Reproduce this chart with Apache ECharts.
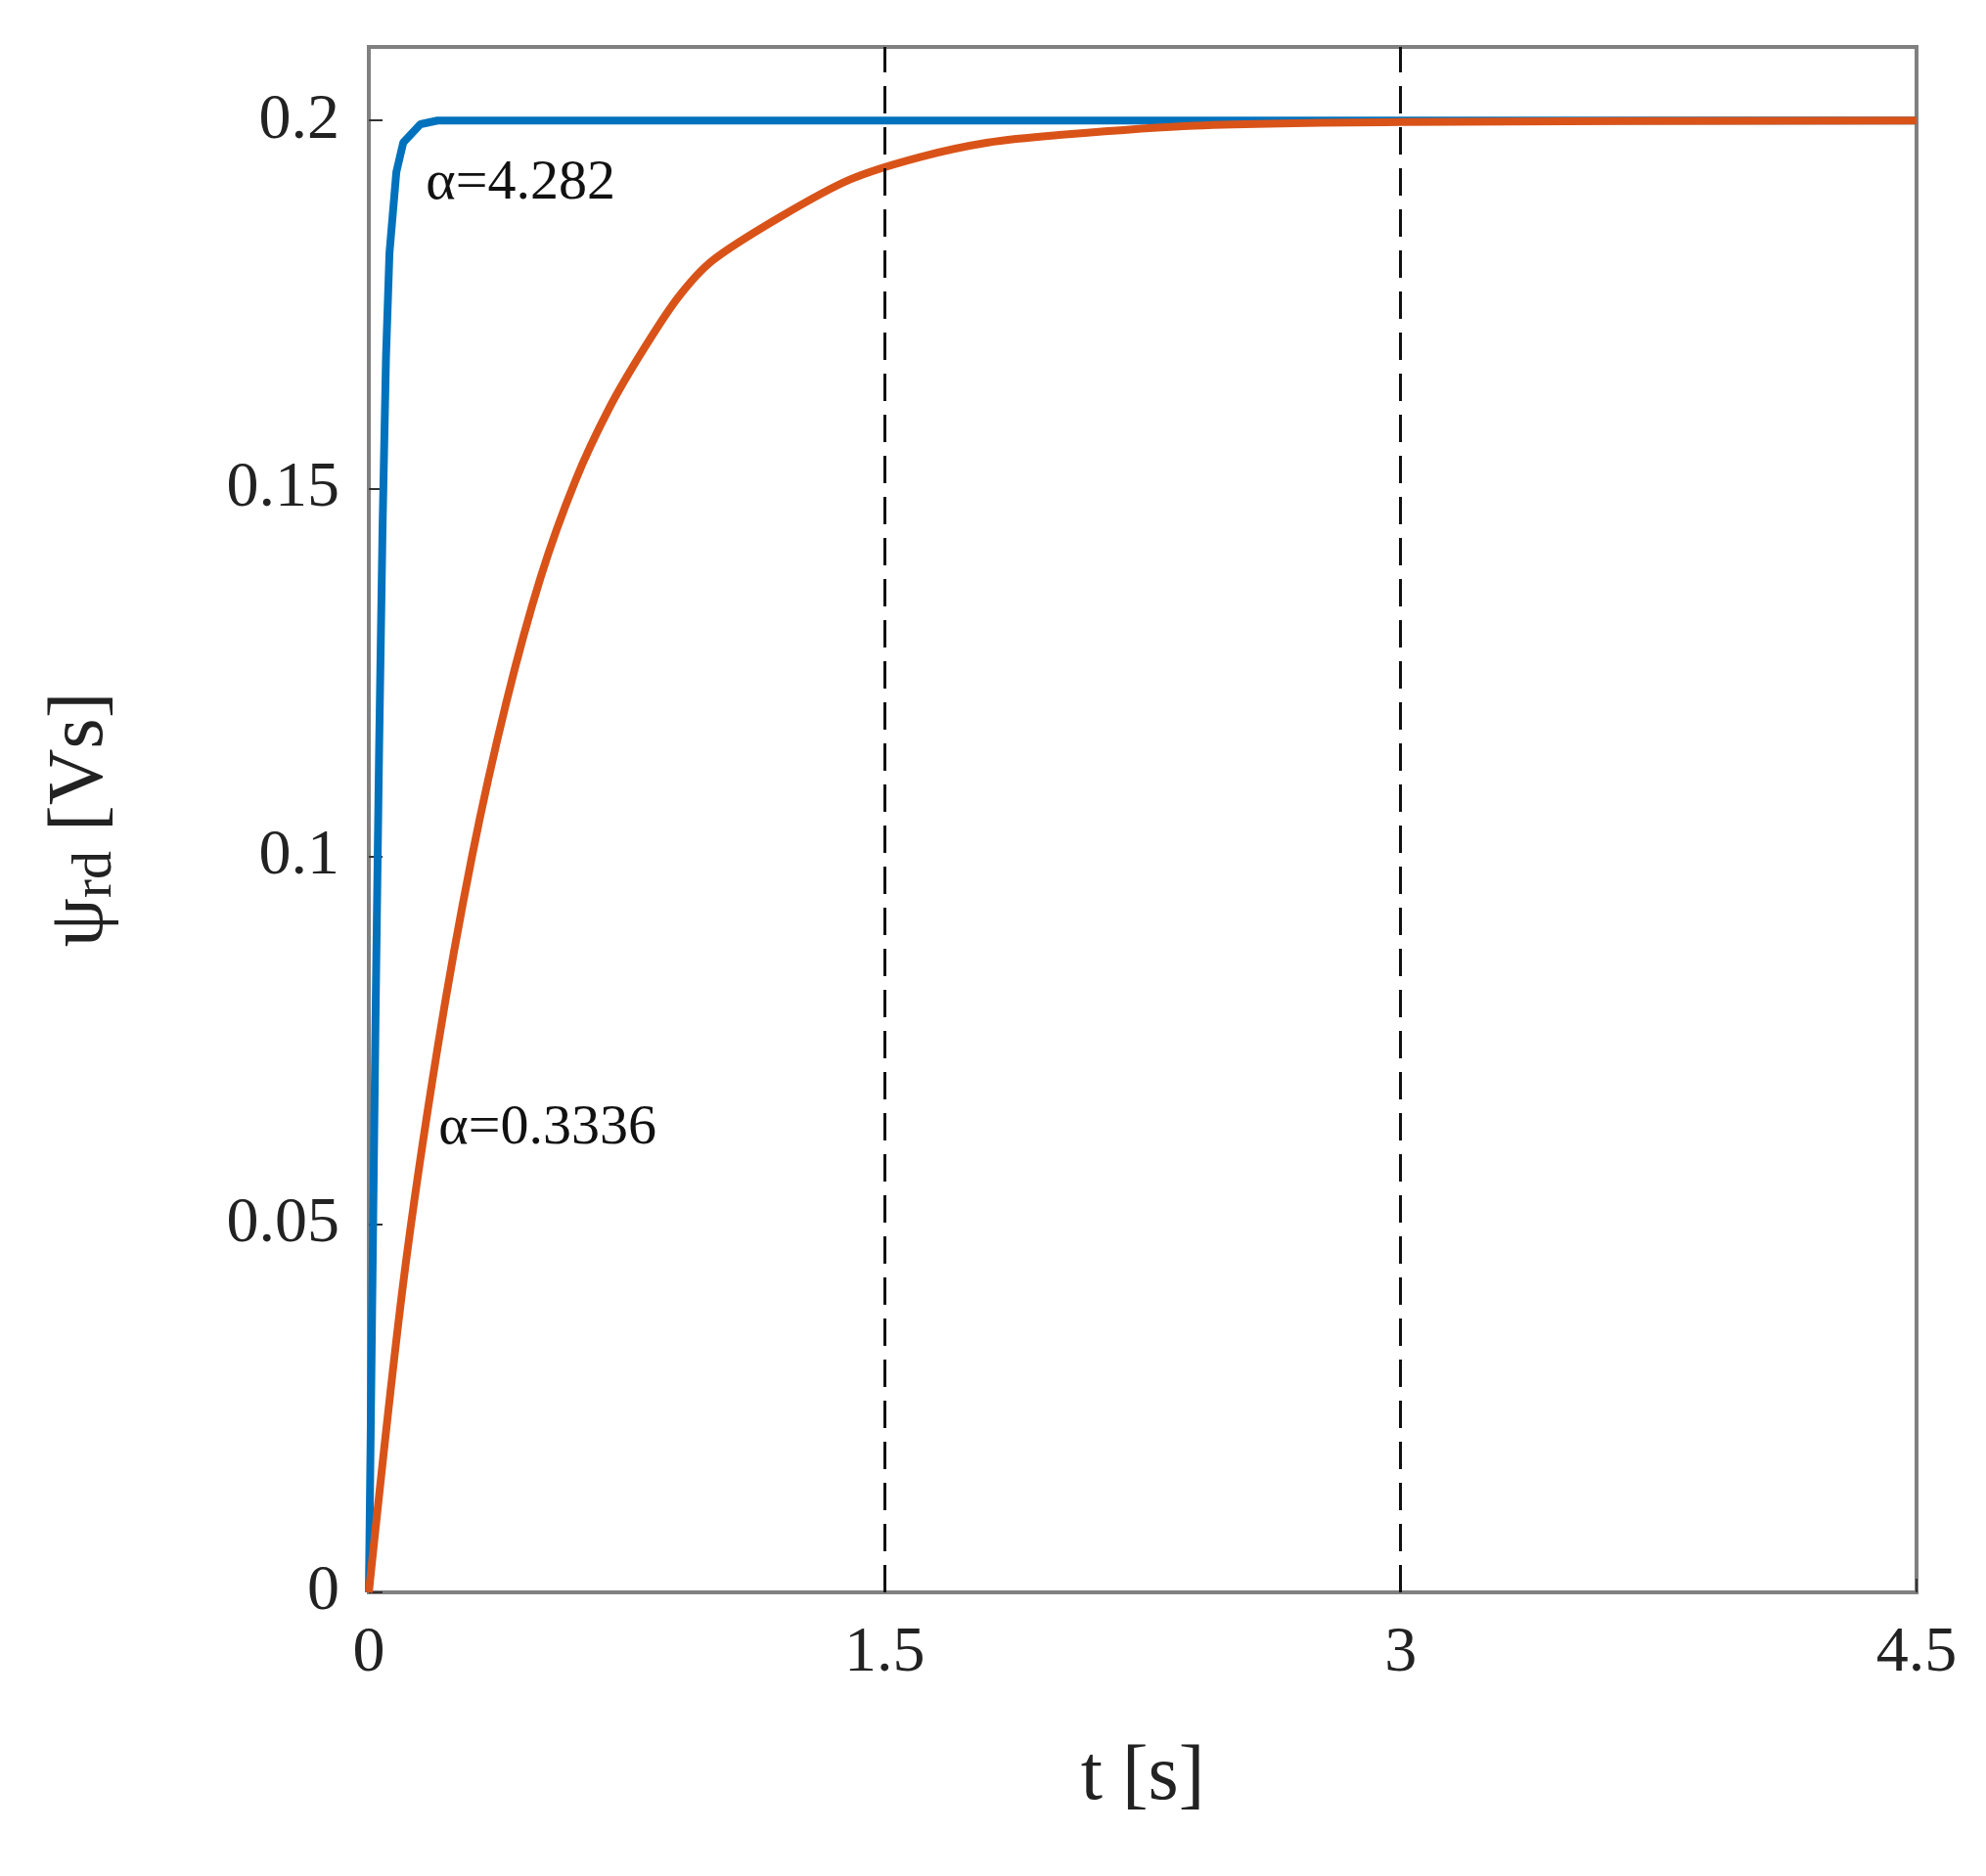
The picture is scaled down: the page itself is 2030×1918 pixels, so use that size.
<!DOCTYPE html>
<html><head><meta charset="utf-8">
<script src="https://cdn.jsdelivr.net/npm/echarts@6/dist/echarts.min.js"></script>
<style>html,body{margin:0;padding:0;background:#fff}#c{width:2030px;height:1918px}</style>
</head><body><div id="c"></div>
<script>
const blueT = [0,0.01,0.02,0.03,0.04,0.05,0.06,0.08,0.1,0.15,0.2,4.5];
const blueV = [0,0.04,0.08,0.115,0.145,0.168,0.182,0.193,0.197,0.1995,0.2,0.2];
const orangeT = [0,0.1,0.2,0.3,0.4,0.5,0.6,0.7,0.8,0.9,1.0,1.2,1.4,1.6,1.8,2.0,2.4,3.0,4.5];
const orangeV = [0,0.042,0.074,0.100,0.121,0.138,0.151,0.161,0.169,0.176,0.181,0.187,0.192,0.195,0.197,0.198,0.1993,0.1998,0.2];
const xTicks = [0,1.5,3,4.5];
const dashedX = [1.5,3];
const labels = [{text:'α=4.282', t:0.166, v:0.191},{text:'α=0.3336', t:0.203, v:0.0626}];

const font = 'Liberation Serif';
const chart = echarts.init(document.getElementById('c'));
const zip = (a,b)=>a.map((x,i)=>[x,b[i]]);
chart.setOption({
  backgroundColor:'#fff',
  animation:false,
  grid:{left:377,right:71,top:48,bottom:290,show:true,borderColor:'#808080',borderWidth:4},
  xAxis:{type:'value',min:0,max:4.5,interval:1.5,
    axisLine:{show:false},splitLine:{show:false},
    axisTick:{inside:true,length:14,lineStyle:{color:'#333',width:2}},
    axisLabel:{fontFamily:font,fontSize:66,color:'#222',margin:30,formatter:v=>xTicks.includes(v)?String(v):''},
    name:'t [s]',nameLocation:'middle',nameGap:150,nameTextStyle:{fontFamily:font,fontSize:80,color:'#222'}},
  yAxis:{type:'value',min:0,max:0.21,interval:0.05,
    axisLine:{show:false},splitLine:{show:false},
    axisTick:{inside:true,length:14,lineStyle:{color:'#333',width:2}},
    axisLabel:{fontFamily:font,fontSize:66,color:'#222',margin:30,showMaxLabel:false,formatter:v=>String(+v.toFixed(2))},
    name:'{a|ψ}{b|rd}{a| [Vs]}',nameLocation:'middle',nameGap:250,nameRotate:90,
    nameTextStyle:{rich:{a:{fontFamily:font,fontSize:80,color:'#222'},b:{fontFamily:font,fontSize:58,color:'#222',verticalAlign:'bottom',padding:[30,0,0,0]}}}},
  series:[
    {type:'line',data:zip(blueT,blueV),showSymbol:false,lineStyle:{color:'#0072BD',width:8},z:3},
    {type:'line',data:zip(orangeT,orangeV),showSymbol:false,smooth:0.3,lineStyle:{color:'#D95319',width:8},z:4,
     markLine:{silent:true,symbol:'none',label:{show:false},lineStyle:{color:'#111',type:[28,14],width:3},data:dashedX.map(x=>({xAxis:x}))}}
  ]
});
chart.setOption({graphic:labels.map(l=>{const p=chart.convertToPixel({gridIndex:0},[l.t,l.v]);
  return {type:'text',left:p[0],top:p[1]-32,z:10,style:{text:l.text,font:'58px "'+font+'"',fill:'#111'}};})});
</script></body></html>
